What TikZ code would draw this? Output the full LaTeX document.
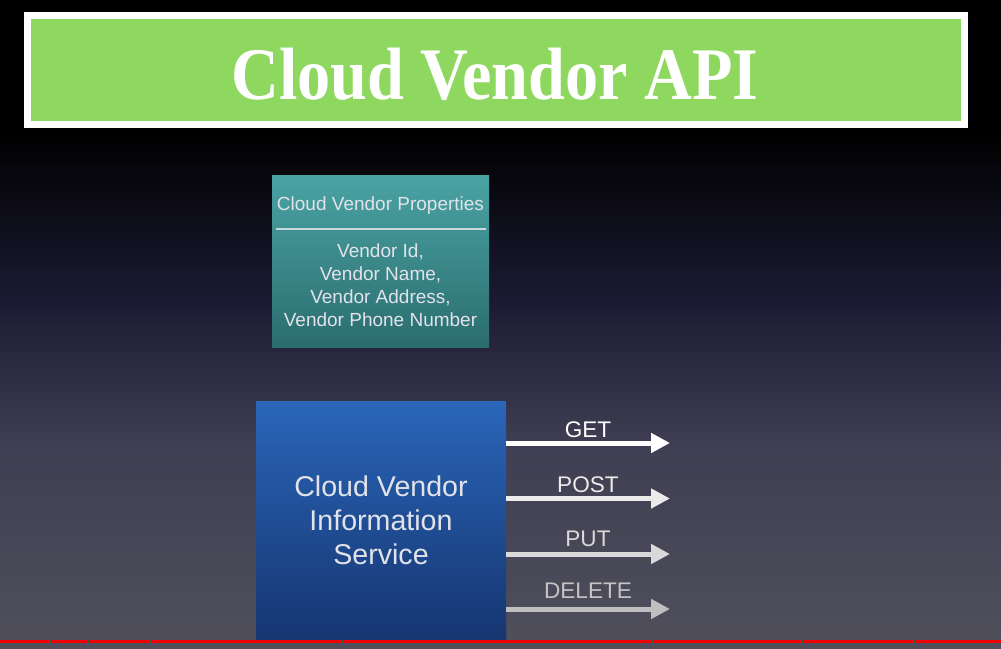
\documentclass[tikz,border=0pt]{standalone}
\usepackage{fontspec}
\setmainfont{Liberation Sans}
\newfontfamily\titlefont{Liberation Serif}
\usetikzlibrary{arrows.meta}
\definecolor{bgmid1}{HTML}{1B1A32}
\definecolor{bgmid2}{HTML}{403F53}
\definecolor{bgbot}{HTML}{504F5B}
\definecolor{titlegreen}{HTML}{8FD860}
\definecolor{tealtop}{HTML}{4AA3A3}
\definecolor{tealbot}{HTML}{2B6D6F}
\definecolor{bluetop}{HTML}{2A66B9}
\definecolor{bluebot}{HTML}{163571}
\definecolor{txtlight}{HTML}{E2E3EA}
\definecolor{redbar}{HTML}{F20000}
\tikzset{
  lbl/.style={anchor=base, inner sep=0pt, font=\fontsize{22.6}{26}\selectfont},
  verb/.style={line width=5pt, -{Triangle[length=19pt,width=19pt]}},
}
\begin{document}
\begin{tikzpicture}[x=1pt,y=-1pt]
\useasboundingbox (0,0) rectangle (1001,648);
% background
\fill[black] (0,0) rectangle (1001,131);
\shade[top color=black, bottom color=bgmid1] (0,130) rectangle (1001,300);
\shade[top color=bgmid1, bottom color=bgmid2] (0,299.5) rectangle (1001,450);
\shade[top color=bgmid2, bottom color=bgbot] (0,449.5) rectangle (1001,648);
% title
\fill[white] (24,12) rectangle (968,128);
\fill[titlegreen] (31,19) rectangle (961,121);
\node[anchor=base, inner sep=0pt, text=white, font=\titlefont\bfseries\fontsize{72}{72}\selectfont] (title) at (495,99) {\scalebox{0.92}[1.03]{Cloud Vendor API}};
% properties box
\node[minimum width=217pt, minimum height=172pt, inner sep=0pt, top color=tealtop, bottom color=tealbot] (props) at (380.5,261) {};
\node[inner sep=0pt, text=txtlight, font=\fontsize{19}{23}\selectfont] (propshead) at (380.5,206) {Cloud Vendor Properties};
\coordinate (sepL) at (276,229);
\coordinate (sepR) at (486,229);
\draw[line width=1.3pt, color=txtlight!85!tealtop] (sepL) -- (sepR);
\node[inner sep=0pt, align=center, text=txtlight, font=\fontsize{19}{23}\selectfont] (propsbody) at (380.5,285) {Vendor Id,\\Vendor Name,\\Vendor Address,\\Vendor Phone Number};
% service box
\node[minimum width=250pt, minimum height=238pt, inner sep=0pt, top color=bluetop, bottom color=bluebot] (svc) at (381,520) {};
\node[inner sep=0pt, align=center, text=txtlight, font=\fontsize{28.6}{34}\selectfont] (svctext) at (381,520) {Cloud Vendor\\Information\\Service};
% arrows
\coordinate (eGet) at (670,443);
\coordinate (ePost) at (670,498.5);
\coordinate (ePut) at (670,554);
\coordinate (eDel) at (670,609);
\draw[verb, color=white] (svc.east |- eGet) -- (eGet);
\draw[verb, color=white!92!black] (svc.east |- ePost) -- (ePost);
\draw[verb, color=white!85!black] (svc.east |- ePut) -- (ePut);
\draw[verb, color=white!75!black] (svc.east |- eDel) -- (eDel);
\node[lbl, text=white] (lget) at (588,437) {GET};
\node[lbl, text=white!92!black] (lpost) at (588,492) {POST};
\node[lbl, text=white!85!black] (lput) at (588,546) {PUT};
\node[lbl, text=white!77!black] (ldel) at (588,598.5) {DELETE};
% progress bar
\foreach \a/\b in {0/49, 51/87, 89/149, 151/341, 343/652, 654/801, 803/913, 915/1001}
  \fill[redbar] (\a,639.5) rectangle (\b,643);
\end{tikzpicture}
\end{document}
